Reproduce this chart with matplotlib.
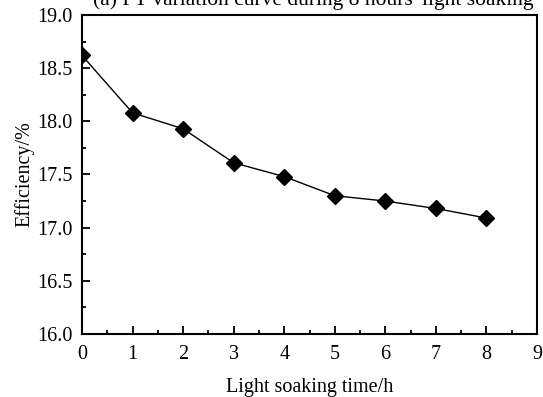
import matplotlib.pyplot as plt
from matplotlib.ticker import MultipleLocator

plt.rcParams['font.family'] = ['Liberation Serif', 'DejaVu Serif']

time_h = [0, 1, 2, 3, 4, 5, 6, 7, 8]
efficiency = [18.62, 18.08, 17.93, 17.61, 17.48, 17.30, 17.25, 17.18, 17.09]

fig = plt.figure(figsize=(5.43, 3.97), dpi=100)
ax = fig.add_axes([0.151, 0.159, 0.838, 0.803])

ax.plot(time_h, efficiency, color='black', lw=1, marker='D', ms=8.5,
        markerfacecolor='black', markeredgecolor='black')

ax.set_xlim(0, 9)
ax.set_ylim(16.0, 19.0)
ax.xaxis.set_major_locator(MultipleLocator(1))
ax.xaxis.set_minor_locator(MultipleLocator(0.5))
ax.yaxis.set_major_locator(MultipleLocator(0.5))
ax.yaxis.set_minor_locator(MultipleLocator(0.25))
ax.yaxis.set_major_formatter(plt.FormatStrFormatter('%.1f'))
ax.tick_params(which='both', direction='in', top=False, right=False,
               labelsize=14.5, width=1.3)
ax.tick_params(which='major', length=6)
ax.tick_params(axis='x', which='major', pad=8)
ax.tick_params(axis='y', which='major', pad=6.5)
ax.tick_params(which='minor', length=3)
for s in ax.spines.values():
    s.set_linewidth(1.5)

ax.set_xlabel('Light soaking time/h', fontsize=14.5, labelpad=10)
ax.set_ylabel('Efficiency/%', fontsize=14.5, labelpad=2.5)

# title is clipped by the top edge in the source figure
fig.text(0.577, 1 - 4.5 / 397, "(a) PT variation curve during 8 hours' light soaking",
         fontsize=15.5, ha='center', va='baseline')

fig.savefig('out.png', dpi=100)
